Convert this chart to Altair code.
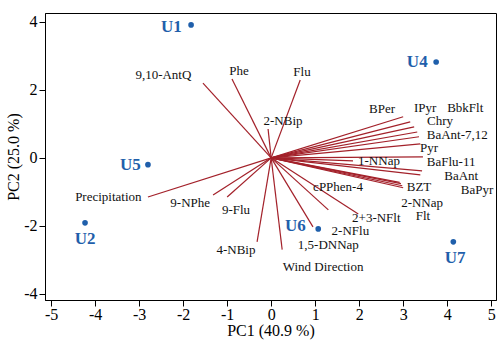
import altair as alt
import pandas as pd

# Loadings (arrow tips) in PC space
variables = ["BPer", "IPyr", "BbkFlt", "Chry", "BaAnt-7,12", "Pyr", "BaFlu-11", "1-NNap",
             "BaAnt", "BaPyr", "BZT", "2-NNap", "Flt", "cPPhen-4", "2+3-NFlt", "2-NFlu",
             "1,5-DNNap", "Wind Direction", "4-NBip", "9-Flu", "9-NPhe", "Precipitation",
             "9,10-AntQ", "Phe", "Flu", "2-NBip"]
load_pc1 = [3.00, 3.16, 3.25, 3.32, 3.36, 3.39, 3.45, 1.86,
            3.43, 3.39, 2.95, 2.98, 3.00, 2.92, 1.98, 1.30,
            0.95, 0.25, -0.32, -1.00, -1.32, -2.80,
            -1.55, -0.89, 0.66, -0.07]
load_pc2 = [1.21, 1.06, 0.91, 0.76, 0.62, 0.41, 0.03, -0.09,
            -0.38, -0.50, -0.76, -0.82, -0.88, -0.72, -1.65, -1.53,
            -2.03, -2.70, -2.47, -1.15, -1.09, -1.15,
            2.20, 2.32, 2.29, 0.85]
# label anchors (data units)
lab_pc1 = [2.52, 3.50, 4.41, 3.84, 4.23, 3.59, 4.09, 2.45,
           4.32, 4.68, 3.36, 3.43, 3.45, 1.52, 2.39, 1.80,
           1.30, 1.18, -0.80, -0.80, -1.84, -3.70,
           -2.45, -0.73, 0.70, 0.27]
lab_pc2 = [1.43, 1.47, 1.47, 1.07, 0.67, 0.28, -0.12, -0.09,
           -0.53, -0.94, -0.87, -1.32, -1.72, -0.85, -1.76, -2.15,
           -2.56, -3.21, -2.71, -1.53, -1.32, -1.15,
           2.44, 2.56, 2.53, 1.09]

# Scores
samples = ["U1", "U4", "U5", "U2", "U6", "U7"]
score_pc1 = [-1.82, 3.75, -2.80, -4.23, 1.07, 4.14]
score_pc2 = [3.91, 2.82, -0.20, -1.91, -2.09, -2.47]
slab_pc1 = [-2.27, 3.32, -3.20, -4.23, 0.55, 4.18]
slab_pc2 = [3.85, 2.82, -0.20, -2.38, -2.00, -2.94]

x_ticks = [-5, -4, -3, -2, -1, 0, 1, 2, 3, 4, 5]
y_ticks = [-4, -3, -2, -1, 0, 1, 2, 3, 4]

load_df = pd.DataFrame({"var": variables, "pc1": load_pc1, "pc2": load_pc2,
                        "lx": lab_pc1, "ly": lab_pc2, "o": [0.0] * len(variables)})
score_df = pd.DataFrame({"s": samples, "pc1": score_pc1, "pc2": score_pc2,
                         "lx": slab_pc1, "ly": slab_pc2})

FONT = "Liberation Serif"
RED = "#a3212a"
BLUE = "#1f5fab"
HYPHEN = "datum.value < 0 ? '-' + abs(datum.value) : '' + datum.value"

xs = alt.Scale(domain=[-5.14, 5.11], nice=False, zero=False)
ys = alt.Scale(domain=[-4.18, 4.26], nice=False, zero=False)

xaxis = alt.Axis(values=x_ticks, title="PC1 (40.9 %)", grid=False, tickSize=6,
                 labelPadding=0, titlePadding=0, domainColor="black", tickColor="black",
                 labelFont=FONT, titleFont=FONT, labelFontSize=16, titleFontSize=16,
                 titleFontWeight="normal", labelColor="black", titleColor="black",
                 labelExpr=HYPHEN)
yaxis = alt.Axis(values=y_ticks, title="PC2 (25.0 %)", grid=False, tickSize=6,
                 labelPadding=2, titlePadding=2, domainColor="black", tickColor="black",
                 labelFont=FONT, titleFont=FONT, labelFontSize=16, titleFontSize=16,
                 titleFontWeight="normal", labelColor="black", titleColor="black",
                 labelExpr=HYPHEN)

arrows = alt.Chart(load_df).mark_rule(color=RED, strokeWidth=1.2).encode(
    x=alt.X("o:Q", scale=xs, axis=xaxis),
    y=alt.Y("o:Q", scale=ys, axis=yaxis),
    x2="pc1:Q",
    y2="pc2:Q",
)

arrow_labels = alt.Chart(load_df).mark_text(font=FONT, fontSize=13, color="#111111",
                                            align="center", baseline="middle").encode(
    x=alt.X("lx:Q", scale=xs), y=alt.Y("ly:Q", scale=ys), text="var:N")

points = alt.Chart(score_df).mark_circle(color=BLUE, size=32, opacity=1).encode(
    x=alt.X("pc1:Q", scale=xs), y=alt.Y("pc2:Q", scale=ys))

point_labels = alt.Chart(score_df).mark_text(font=FONT, fontSize=17, fontWeight="bold",
                                             color=BLUE, align="center", baseline="middle").encode(
    x=alt.X("lx:Q", scale=xs), y=alt.Y("ly:Q", scale=ys), text="s:N")

chart = alt.layer(arrows, arrow_labels, points, point_labels).properties(
    width=451, height=287,
    autosize=alt.AutoSizeParams(type="none"),
    padding={"left": 45, "top": 13, "right": 1, "bottom": 40},
).configure_view(stroke="black", strokeWidth=1)

chart.save("out.html", embed_options={"renderer": "svg", "actions": False})
